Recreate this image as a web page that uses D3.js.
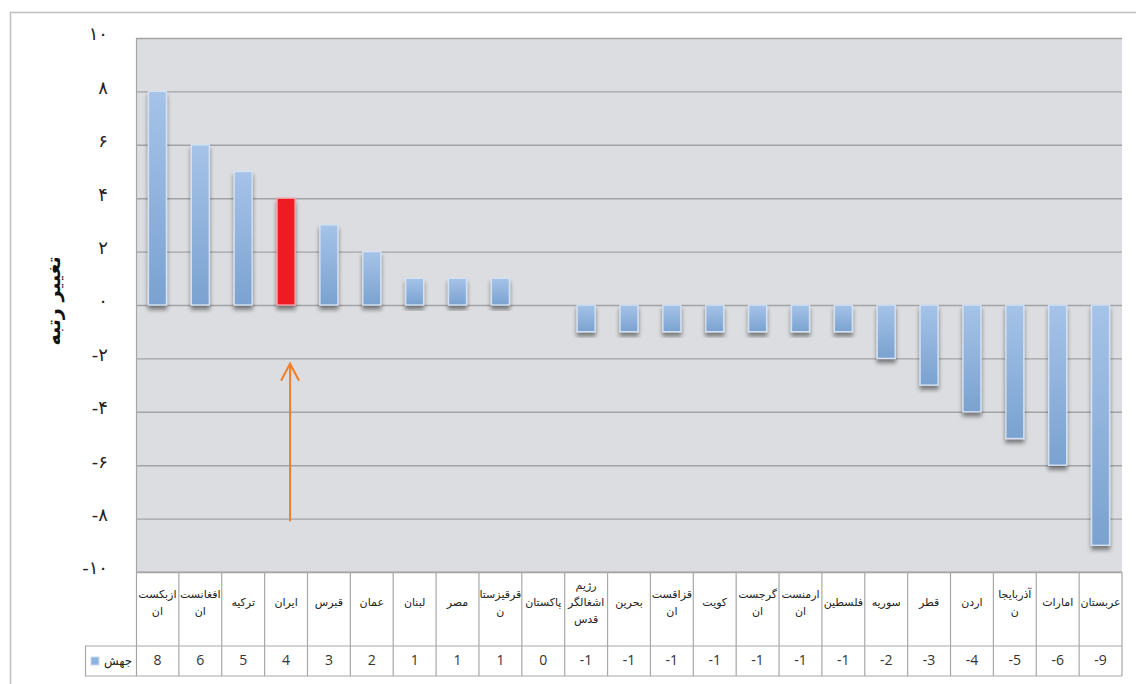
<!DOCTYPE html>
<html>
<head>
<meta charset="utf-8">
<script src="https://cdn.jsdelivr.net/npm/d3@7"></script>
<style>
  html, body { margin: 0; padding: 0; background: #ffffff; }
  svg { display: block; }
</style>
</head>
<body>
<svg id="chart" width="1136" height="684"></svg>
<script>
// ---------- data ----------
const categories = ["ازبکستان","افغانستان","ترکیه","ایران","قبرس","عمان","لبنان","مصر","قرقیزستان","پاکستان","رژیم اشغالگر قدس","بحرین","قزاقستان","کویت","گرجستان","ارمنستان","فلسطین","سوریه","قطر","اردن","آذربایجان","امارات","عربستان"];
const categoryLabels = ["ازبکست\nان","افغانست\nان","ترکیه","ایران","قبرس","عمان","لبنان","مصر","قرقیزستا\nن","پاکستان","رژیم\nاشغالگر\nقدس","بحرین","قزاقست\nان","کویت","گرجست\nان","ارمنست\nان","فلسطین","سوریه","قطر","اردن","آذربایجا\nن","امارات","عربستان"];
const values = [8, 6, 5, 4, 3, 2, 1, 1, 1, 0, -1, -1, -1, -1, -1, -1, -1, -2, -3, -4, -5, -6, -9];
const yTicks = [-10, -8, -6, -4, -2, 0, 2, 4, 6, 8, 10];
const highlighted = ["ایران"];
const seriesName = "جهش";
const yTitle = "تغییر رتبه";

// ---------- layout ----------
const plot = { left: 136, right: 1122, top: 38, bottom: 572 };
const tableRow1 = 646, tableRow2 = 676, legendLeft = 85;

const svg = d3.select("#chart");
const defs = svg.append("defs");

const grad = defs.append("linearGradient").attr("id", "barGrad")
  .attr("x1", 0).attr("y1", 0).attr("x2", 0).attr("y2", 1);
grad.append("stop").attr("offset", "0%").attr("stop-color", "#a6c3e8");
grad.append("stop").attr("offset", "100%").attr("stop-color", "#7aa2d0");

const shadow = defs.append("filter").attr("id", "shadow")
  .attr("x", "-50%").attr("y", "-20%").attr("width", "200%").attr("height", "140%");
shadow.append("feDropShadow").attr("dx", 0).attr("dy", 4).attr("stdDeviation", 2.2)
  .attr("flood-color", "#000").attr("flood-opacity", 0.45);

// outer frame
svg.append("line").attr("x1", 10).attr("x2", 1136).attr("y1", 12.5).attr("y2", 12.5)
  .attr("stroke", "#bfbfbf").attr("stroke-width", 1.5);
svg.append("line").attr("x1", 10.5).attr("x2", 10.5).attr("y1", 12).attr("y2", 684)
  .attr("stroke", "#bfbfbf").attr("stroke-width", 1.5);

// scales
const x = d3.scaleBand().domain(categories).range([plot.left, plot.right])
  .paddingInner(0.58).paddingOuter(0.29);
const xCell = d3.scaleBand().domain(categories).range([plot.left, plot.right]).padding(0);
const y = d3.scaleLinear().domain([-10, 10]).range([plot.bottom, plot.top]);

// plot background
svg.append("rect").attr("x", plot.left).attr("y", plot.top)
  .attr("width", plot.right - plot.left).attr("height", plot.bottom - plot.top)
  .attr("fill", "#dcdde0");

// gridlines via axis
const grid = svg.append("g").attr("transform", `translate(${plot.left},0)`)
  .call(d3.axisRight(y).tickValues(yTicks).tickSize(plot.right - plot.left).tickFormat(""));
grid.select(".domain").remove();
grid.selectAll(".tick line").attr("stroke", "#a3a3a5").attr("stroke-width", 1.4);

// left border of plot
svg.append("line").attr("x1", plot.left + 0.5).attr("x2", plot.left + 0.5)
  .attr("y1", plot.top).attr("y2", tableRow2).attr("stroke", "#a6a6a6").attr("stroke-width", 1.2);

// y axis tick labels (Persian digits)
const toFa = n => {
  const s = String(Math.abs(n)).replace(/[0-9]/g, d => "۰۱۲۳۴۵۶۷۸۹"[+d]);
  return (n < 0 ? "-" : "") + s;
};
const yAxis = svg.append("g").attr("transform", `translate(${plot.left},0)`)
  .call(d3.axisLeft(y).tickValues(yTicks).tickSize(0).tickPadding(28).tickFormat(toFa));
yAxis.select(".domain").remove();
yAxis.selectAll(".tick text")
  .attr("font-family", "DejaVu Sans").attr("font-size", 18).attr("fill", "#222")
  .attr("direction", "ltr").attr("dy", "0.1em");

// y title
svg.append("text").attr("transform", "translate(54,301) rotate(-90)")
  .attr("text-anchor", "middle").attr("dominant-baseline", "middle")
  .attr("font-family", "DejaVu Sans").attr("font-weight", "bold").attr("font-size", 19)
  .attr("fill", "#111").text(yTitle);

// bars
const bars = svg.append("g");
bars.selectAll("rect").data(categories.map((c, i) => ({ c, v: values[i] }))).join("rect")
  .attr("x", d => x(d.c))
  .attr("width", x.bandwidth())
  .attr("y", d => y(Math.max(0, d.v)))
  .attr("height", d => Math.abs(y(d.v) - y(0)))
  .attr("fill", d => highlighted.includes(d.c) ? "#ee1c24" : "url(#barGrad)")
  .attr("stroke", d => highlighted.includes(d.c) ? "#f4a3a6" : "#d4e1f2")
  .attr("stroke-width", 1.4)
  .attr("filter", "url(#shadow)");

// arrow pointing to highlighted bar
const hx = x("ایران") + x.bandwidth() / 2 + 4;
const arrow = svg.append("g").attr("stroke", "#f07f2a").attr("stroke-width", 2).attr("fill", "none");
arrow.append("line").attr("x1", hx).attr("x2", hx).attr("y1", y(-8.1)).attr("y2", y(-2.2));
arrow.append("polyline").attr("points",
  `${hx - 9},${y(-2.2) + 17} ${hx},${y(-2.2)} ${hx + 9},${y(-2.2) + 17}`);

// data table
const tbl = svg.append("g").attr("stroke", "#a8a8a8").attr("stroke-width", 1.2);
tbl.append("line").attr("x1", plot.left).attr("x2", plot.right).attr("y1", plot.bottom).attr("y2", plot.bottom);
tbl.append("line").attr("x1", legendLeft).attr("x2", plot.right).attr("y1", tableRow1).attr("y2", tableRow1);
tbl.append("line").attr("x1", legendLeft).attr("x2", plot.right).attr("y1", tableRow2).attr("y2", tableRow2);
tbl.append("line").attr("x1", legendLeft + 0.5).attr("x2", legendLeft + 0.5).attr("y1", tableRow1).attr("y2", tableRow2);
tbl.selectAll("line.col").data(categories).join("line").attr("class", "col")
  .attr("x1", d => xCell(d) + xCell.bandwidth()).attr("x2", d => xCell(d) + xCell.bandwidth())
  .attr("y1", plot.bottom).attr("y2", tableRow2);

// category labels
const rowMid = 603, lineH = 17;
const catG = svg.append("g");
categories.forEach((c, i) => {
  const lines = categoryLabels[i].split("\n");
  const t = catG.append("text").attr("text-anchor", "middle")
    .attr("font-family", "DejaVu Sans").attr("font-size", 11).attr("fill", "#222");
  lines.forEach((ln, k) => {
    t.append("tspan").attr("x", xCell(c) + xCell.bandwidth() / 2)
      .attr("y", rowMid + (k - (lines.length - 1) / 2) * lineH)
      .attr("dominant-baseline", "middle").text(ln);
  });
});

// value row
svg.append("g").selectAll("text").data(categories).join("text")
  .attr("x", d => xCell(d) + xCell.bandwidth() / 2).attr("y", (tableRow1 + tableRow2) / 2)
  .attr("text-anchor", "middle").attr("dominant-baseline", "middle")
  .attr("font-family", "Open Sans").attr("font-size", 14).attr("fill", "#333")
  .text((d, i) => values[i]);

// legend key in table
svg.append("rect").attr("x", 91).attr("y", 657).attr("width", 8).attr("height", 8)
  .attr("fill", "#8fb3e0").attr("stroke", "#c9d9ee").attr("stroke-width", 1);
svg.append("text").attr("x", 118).attr("y", (tableRow1 + tableRow2) / 2)
  .attr("text-anchor", "middle").attr("dominant-baseline", "middle")
  .attr("font-family", "DejaVu Sans").attr("font-size", 12).attr("fill", "#222").text(seriesName);
</script>
</body>
</html>
